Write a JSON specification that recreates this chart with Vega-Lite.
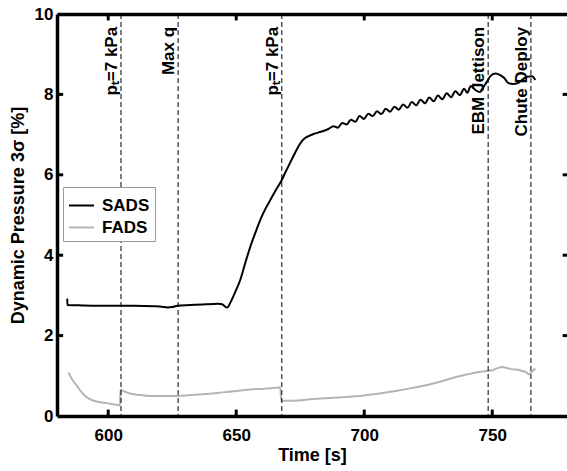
{
  "$schema": "https://vega.github.io/schema/vega-lite/v6.json",
  "width": 510,
  "height": 402,
  "autosize": {"type": "none"},
  "padding": {"left": 57, "top": 14, "right": 0, "bottom": 55},
  "background": "white",
  "config": {
    "view": {"stroke": null},
    "font": "Liberation Sans",
    "axis": {
      "domainColor": "black", "domainWidth": 3.5, "ticks": false,
      "labelFont": "Liberation Sans", "labelFontSize": 17, "labelFontWeight": "bold", "labelColor": "black",
      "titleFont": "Liberation Sans", "titleFontSize": 18, "titleFontWeight": "bold", "titleColor": "black",
      "grid": false
    }
  },
  "datasets": {
    "xticks": [{"t": 600}, {"t": 650}, {"t": 700}, {"t": 750}],
    "yticks": [{"v": 2}, {"v": 4}, {"v": 6}, {"v": 8}],
    "series": [
      {"t": 584.0, "v": 2.92, "s": "SADS"},
      {"t": 584.05, "v": 2.76, "s": "SADS"},
      {"t": 590, "v": 2.75, "s": "SADS"},
      {"t": 600, "v": 2.74, "s": "SADS"},
      {"t": 610, "v": 2.74, "s": "SADS"},
      {"t": 618, "v": 2.73, "s": "SADS"},
      {"t": 621, "v": 2.72, "s": "SADS"},
      {"t": 623, "v": 2.70, "s": "SADS"},
      {"t": 625, "v": 2.71, "s": "SADS"},
      {"t": 627, "v": 2.74, "s": "SADS"},
      {"t": 632, "v": 2.76, "s": "SADS"},
      {"t": 638, "v": 2.78, "s": "SADS"},
      {"t": 643, "v": 2.79, "s": "SADS"},
      {"t": 644.5, "v": 2.78, "s": "SADS"},
      {"t": 645.7, "v": 2.72, "s": "SADS"},
      {"t": 646.5, "v": 2.70, "s": "SADS"},
      {"t": 647.7, "v": 2.82, "s": "SADS"},
      {"t": 649.5, "v": 3.07, "s": "SADS"},
      {"t": 651.6, "v": 3.39, "s": "SADS"},
      {"t": 653.5, "v": 3.80, "s": "SADS"},
      {"t": 655.5, "v": 4.21, "s": "SADS"},
      {"t": 657.5, "v": 4.56, "s": "SADS"},
      {"t": 659.4, "v": 4.88, "s": "SADS"},
      {"t": 661.3, "v": 5.14, "s": "SADS"},
      {"t": 663.3, "v": 5.37, "s": "SADS"},
      {"t": 665.5, "v": 5.62, "s": "SADS"},
      {"t": 667.8, "v": 5.87, "s": "SADS"},
      {"t": 669.5, "v": 6.10, "s": "SADS"},
      {"t": 671, "v": 6.29, "s": "SADS"},
      {"t": 673, "v": 6.55, "s": "SADS"},
      {"t": 675, "v": 6.78, "s": "SADS"},
      {"t": 677, "v": 6.92, "s": "SADS"},
      {"t": 678.5, "v": 6.97, "s": "SADS"},
      {"t": 680, "v": 7.01, "s": "SADS"},
      {"t": 682, "v": 7.05, "s": "SADS"},
      {"t": 684, "v": 7.09, "s": "SADS"},
      {"t": 686, "v": 7.14, "s": "SADS"},
      {"t": 688.0, "v": 7.21, "s": "SADS"},
      {"t": 689.7, "v": 7.17, "s": "SADS"},
      {"t": 691.4, "v": 7.29, "s": "SADS"},
      {"t": 693.1, "v": 7.25, "s": "SADS"},
      {"t": 694.8, "v": 7.37, "s": "SADS"},
      {"t": 696.5, "v": 7.32, "s": "SADS"},
      {"t": 698.2, "v": 7.46, "s": "SADS"},
      {"t": 699.9, "v": 7.39, "s": "SADS"},
      {"t": 701.6, "v": 7.52, "s": "SADS"},
      {"t": 703.3, "v": 7.46, "s": "SADS"},
      {"t": 705.0, "v": 7.58, "s": "SADS"},
      {"t": 706.7, "v": 7.51, "s": "SADS"},
      {"t": 708.4, "v": 7.64, "s": "SADS"},
      {"t": 710.1, "v": 7.57, "s": "SADS"},
      {"t": 711.8, "v": 7.69, "s": "SADS"},
      {"t": 713.5, "v": 7.62, "s": "SADS"},
      {"t": 715.2, "v": 7.75, "s": "SADS"},
      {"t": 716.9, "v": 7.67, "s": "SADS"},
      {"t": 718.6, "v": 7.81, "s": "SADS"},
      {"t": 720.3, "v": 7.73, "s": "SADS"},
      {"t": 722.0, "v": 7.87, "s": "SADS"},
      {"t": 723.7, "v": 7.78, "s": "SADS"},
      {"t": 725.4, "v": 7.92, "s": "SADS"},
      {"t": 727.1, "v": 7.83, "s": "SADS"},
      {"t": 728.8, "v": 7.97, "s": "SADS"},
      {"t": 730.5, "v": 7.88, "s": "SADS"},
      {"t": 732.2, "v": 8.03, "s": "SADS"},
      {"t": 733.9, "v": 7.93, "s": "SADS"},
      {"t": 735.6, "v": 8.08, "s": "SADS"},
      {"t": 737.3, "v": 7.98, "s": "SADS"},
      {"t": 739.0, "v": 8.14, "s": "SADS"},
      {"t": 740.3, "v": 8.04, "s": "SADS"},
      {"t": 741.6, "v": 8.21, "s": "SADS"},
      {"t": 743.4, "v": 8.11, "s": "SADS"},
      {"t": 745.3, "v": 8.06, "s": "SADS"},
      {"t": 746.5, "v": 8.18, "s": "SADS"},
      {"t": 748.0, "v": 8.32, "s": "SADS"},
      {"t": 749.2, "v": 8.45, "s": "SADS"},
      {"t": 751.2, "v": 8.52, "s": "SADS"},
      {"t": 753.1, "v": 8.48, "s": "SADS"},
      {"t": 754.8, "v": 8.40, "s": "SADS"},
      {"t": 756.3, "v": 8.28, "s": "SADS"},
      {"t": 758.2, "v": 8.26, "s": "SADS"},
      {"t": 760.0, "v": 8.28, "s": "SADS"},
      {"t": 762.0, "v": 8.38, "s": "SADS"},
      {"t": 763.6, "v": 8.44, "s": "SADS"},
      {"t": 765.5, "v": 8.45, "s": "SADS"},
      {"t": 766.8, "v": 8.36, "s": "SADS"},
      {"t": 584.5, "v": 1.08, "s": "FADS"},
      {"t": 586, "v": 0.90, "s": "FADS"},
      {"t": 587.8, "v": 0.75, "s": "FADS"},
      {"t": 589.5, "v": 0.60, "s": "FADS"},
      {"t": 591, "v": 0.50, "s": "FADS"},
      {"t": 592.5, "v": 0.43, "s": "FADS"},
      {"t": 594.3, "v": 0.38, "s": "FADS"},
      {"t": 597, "v": 0.34, "s": "FADS"},
      {"t": 599.5, "v": 0.32, "s": "FADS"},
      {"t": 602, "v": 0.29, "s": "FADS"},
      {"t": 604.6, "v": 0.27, "s": "FADS"},
      {"t": 604.8, "v": 0.65, "s": "FADS"},
      {"t": 606, "v": 0.62, "s": "FADS"},
      {"t": 608, "v": 0.57, "s": "FADS"},
      {"t": 610, "v": 0.54, "s": "FADS"},
      {"t": 613, "v": 0.52, "s": "FADS"},
      {"t": 616.4, "v": 0.50, "s": "FADS"},
      {"t": 620, "v": 0.50, "s": "FADS"},
      {"t": 626.8, "v": 0.50, "s": "FADS"},
      {"t": 632, "v": 0.52, "s": "FADS"},
      {"t": 637, "v": 0.54, "s": "FADS"},
      {"t": 642.4, "v": 0.57, "s": "FADS"},
      {"t": 648, "v": 0.61, "s": "FADS"},
      {"t": 655.5, "v": 0.66, "s": "FADS"},
      {"t": 661, "v": 0.68, "s": "FADS"},
      {"t": 667.2, "v": 0.71, "s": "FADS"},
      {"t": 667.6, "v": 0.38, "s": "FADS"},
      {"t": 672, "v": 0.38, "s": "FADS"},
      {"t": 680, "v": 0.42, "s": "FADS"},
      {"t": 690, "v": 0.46, "s": "FADS"},
      {"t": 699.7, "v": 0.51, "s": "FADS"},
      {"t": 706, "v": 0.56, "s": "FADS"},
      {"t": 712.8, "v": 0.63, "s": "FADS"},
      {"t": 719, "v": 0.70, "s": "FADS"},
      {"t": 725.8, "v": 0.79, "s": "FADS"},
      {"t": 730, "v": 0.86, "s": "FADS"},
      {"t": 734.8, "v": 0.95, "s": "FADS"},
      {"t": 740, "v": 1.03, "s": "FADS"},
      {"t": 745.3, "v": 1.10, "s": "FADS"},
      {"t": 750, "v": 1.14, "s": "FADS"},
      {"t": 753.8, "v": 1.22, "s": "FADS"},
      {"t": 756, "v": 1.19, "s": "FADS"},
      {"t": 758, "v": 1.16, "s": "FADS"},
      {"t": 760, "v": 1.15, "s": "FADS"},
      {"t": 761.6, "v": 1.12, "s": "FADS"},
      {"t": 763, "v": 1.10, "s": "FADS"},
      {"t": 764.3, "v": 1.04, "s": "FADS"},
      {"t": 765.5, "v": 1.10, "s": "FADS"},
      {"t": 766.8, "v": 1.18, "s": "FADS"}
    ],
    "events": [
      {"t": 605.0, "label": "pₜ=7 kPa"},
      {"t": 627.3, "label": "Max q"},
      {"t": 667.8, "label": "pₜ=7 kPa"},
      {"t": 748.4, "label": "EBM Jettison"},
      {"t": 765.1, "label": "Chute Deploy"}
    ]
  },
  "layer": [
    {
      "data": {"name": "series"},
      "mark": {"type": "line", "strokeWidth": 2, "interpolate": "monotone"},
      "encoding": {
        "x": {"field": "t", "type": "quantitative",
              "scale": {"domain": [580, 779.2], "nice": false, "zero": false},
              "axis": {"title": "Time [s]", "values": [600, 650, 700, 750], "labelPadding": 11, "titlePadding": 3}},
        "y": {"field": "v", "type": "quantitative",
              "scale": {"domain": [0, 10], "nice": false},
              "axis": {"title": "Dynamic Pressure 3σ [%]", "values": [0, 2, 4, 6, 8, 10], "labelPadding": 4, "titlePadding": 7}},
        "color": {"field": "s", "type": "nominal",
                  "scale": {"domain": ["SADS", "FADS"], "range": ["black", "#b4b4b4"]},
                  "legend": {"title": null, "orient": "none", "legendX": 6, "legendY": 173,
                             "symbolType": "stroke", "symbolSize": 625, "symbolStrokeWidth": 2,
                             "labelFont": "Liberation Sans", "labelFontSize": 17, "labelFontWeight": "bold", "labelColor": "black",
                             "strokeColor": "#9a9a9a", "fillColor": "white", "padding": 5, "rowPadding": 0, "labelOffset": 7}}
      }
    },
    {
      "data": {"name": "events"},
      "mark": {"type": "rule", "strokeDash": [5, 3], "strokeWidth": 1, "color": "black"},
      "encoding": {
        "x": {"field": "t", "type": "quantitative",
              "axis": {"orient": "top", "labels": false, "title": null, "values": [600, 650, 700, 750]}}
      }
    },
    {
      "data": {"name": "events"},
      "mark": {"type": "text", "angle": 270, "align": "right", "baseline": "alphabetic", "dy": -4,
               "fontSize": 17, "fontWeight": "bold", "font": "Liberation Sans", "color": "black"},
      "encoding": {
        "x": {"field": "t", "type": "quantitative", "axis": null},
        "y": {"datum": 9.68, "type": "quantitative", "axis": null},
        "text": {"field": "label"}
      }
    },
    {
      "data": {"name": "xticks"},
      "mark": {"type": "rule", "strokeWidth": 3, "color": "black"},
      "encoding": {
        "x": {"field": "t", "type": "quantitative", "axis": null},
        "y": {"datum": 0, "type": "quantitative", "axis": null},
        "y2": {"datum": 0.16}
      }
    },
    {
      "data": {"name": "xticks"},
      "mark": {"type": "rule", "strokeWidth": 3, "color": "black"},
      "encoding": {
        "x": {"field": "t", "type": "quantitative", "axis": null},
        "y": {"datum": 10, "type": "quantitative", "axis": null},
        "y2": {"datum": 9.84}
      }
    },
    {
      "data": {"name": "yticks"},
      "mark": {"type": "rule", "strokeWidth": 3, "color": "black"},
      "encoding": {
        "y": {"field": "v", "type": "quantitative", "axis": null},
        "x": {"datum": 580, "type": "quantitative", "axis": null},
        "x2": {"datum": 582.4}
      }
    },
    {
      "data": {"name": "yticks"},
      "mark": {"type": "rule", "strokeWidth": 3, "color": "black"},
      "encoding": {
        "y": {"field": "v", "type": "quantitative", "axis": null},
        "x": {"datum": 779.2, "type": "quantitative", "axis": null},
        "x2": {"datum": 777.5}
      }
    }
  ],
  "resolve": {"axis": {"x": "independent", "y": "independent"}}
}
